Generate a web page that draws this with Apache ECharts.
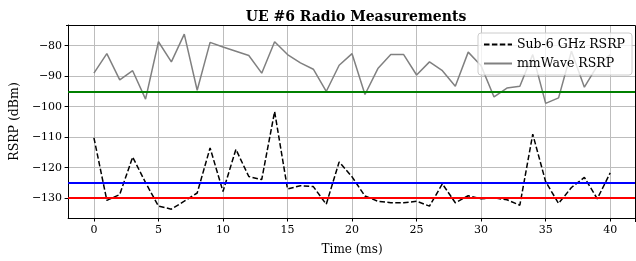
<!DOCTYPE html>
<html>
<head>
<meta charset="utf-8">
<script src="https://cdn.jsdelivr.net/npm/echarts@6/dist/echarts.min.js"></script>
<style>
  body { margin: 0; background: #fff; }
  #c { width: 636px; height: 261px; }
</style>
</head>
<body>
<div id="c"></div>
<script>
// ---------- data ----------
const timeMs = [0, 1, 2, 3, 4, 5, 6, 7, 8, 9, 10, 11, 12, 13, 14, 15, 16, 17, 18, 19, 20,
  21, 22, 23, 24, 25, 26, 27, 28, 29, 30, 31, 32, 33, 34, 35, 36, 37, 38, 39, 40];
const sub6Rsrp = [-110.2, -130.7, -128.8, -116.5, -124.9, -132.6, -133.6, -131.0, -128.3, -113.5,
  -127.8, -114.0, -122.9, -123.9, -101.6, -127.0, -125.9, -126.2, -132.0, -118.1,
  -123.0, -129.3, -131.0, -131.5, -131.5, -131.0, -132.6, -125.3, -131.5, -129.2,
  -130.2, -129.9, -130.5, -132.3, -109.0, -124.6, -131.7, -126.5, -123.2, -130.2, -121.7];
const mmwaveRsrp = [-89.0, -82.6, -91.2, -88.2, -97.5, -78.7, -85.3, -76.2, -94.6, -78.9,
  -80.4, -81.8, -83.2, -89.0, -78.7, -82.9, -85.6, -87.7, -95.0, -86.4,
  -82.6, -96.0, -87.5, -82.9, -82.9, -89.6, -85.3, -88.2, -93.3, -82.1,
  -86.6, -96.8, -93.9, -93.3, -82.9, -98.9, -97.1, -81.8, -93.6, -86.6, -83.0];
// threshold lines
const thresholds = [
  { value: -95, color: "#008000" },
  { value: -125, color: "#0000ff" },
  { value: -130, color: "#ff0000" },
];
const xTicks = [0, 5, 10, 15, 20, 25, 30, 35, 40];
const yTicks = [-130, -120, -110, -100, -90, -80];

const FONT = "DejaVu Serif";
const minus = (v) => String(v).replace("-", "\u2212");
const pairs = (ys) => timeMs.map((t, i) => [t, ys[i]]);

const chart = echarts.init(document.getElementById("c"), null, { renderer: "canvas" });
chart.setOption({
  animation: false,
  title: {
    text: "UE #6 Radio Measurements",
    left: 351, top: 5, textAlign: "center",
    textStyle: { fontFamily: FONT, fontSize: 14, fontWeight: "bold", color: "#000" },
  },
  grid: { left: 66, right: 0, top: 25, bottom: 39, containLabel: false },
  legend: {
    right: 4, top: 33,
    orient: "vertical",
    itemWidth: 28, itemHeight: 12, itemGap: 6,
    padding: [5, 7, 5, 5],
    backgroundColor: "rgba(255,255,255,0.8)",
    borderColor: "#cccccc", borderWidth: 1, borderRadius: 3,
    itemStyle: { opacity: 0 },
    textStyle: { fontFamily: FONT, fontSize: 12.5, color: "#000" },
    data: ["Sub-6 GHz RSRP", "mmWave RSRP"],
  },
  xAxis: {
    type: "value", min: -2, max: 42,
    name: "Time (ms)", nameLocation: "middle", nameGap: 26,
    nameTextStyle: { fontFamily: FONT, fontSize: 12, color: "#000" },
    axisLine: { onZero: false, lineStyle: { color: "#000", width: 1 } },
    axisTick: { customValues: xTicks, length: 3.5, lineStyle: { color: "#000" } },
    axisLabel: { customValues: xTicks, margin: 7, fontFamily: FONT, fontSize: 11, color: "#000" },
    splitLine: { show: true, lineStyle: { color: "#bdbdbd", width: 1 } },
  },
  yAxis: {
    type: "value", min: -136.5, max: -73.2,
    name: "RSRP (dBm)", nameLocation: "middle", nameGap: 47,
    nameTextStyle: { fontFamily: FONT, fontSize: 12.5, color: "#000" },
    axisLine: { show: true, onZero: false, lineStyle: { color: "#000", width: 1 } },
    axisTick: { show: true, customValues: yTicks, length: 3.5, lineStyle: { color: "#000" } },
    axisLabel: { customValues: yTicks, margin: 6, fontFamily: FONT, fontSize: 11, color: "#000", formatter: minus },
    splitLine: { show: true, lineStyle: { color: "#bdbdbd", width: 1 } },
  },
  series: [
    {
      name: "Sub-6 GHz RSRP", type: "line", data: pairs(sub6Rsrp),
      symbol: "none", color: "#000",
      lineStyle: { color: "#000", width: 1.5, type: [5.5, 2.4] },
      z: 3,
    },
    {
      name: "mmWave RSRP", type: "line", data: pairs(mmwaveRsrp),
      symbol: "none", color: "#808080",
      lineStyle: { color: "#808080", width: 1.5 },
      z: 3,
      markLine: {
        silent: true, symbol: "none", label: { show: false },
        data: thresholds.map((t) => ({ yAxis: t.value, lineStyle: { color: t.color, width: 2, type: "solid" } })),
      },
    },
  ],
  graphic: [{
    // top and right spines of the matplotlib frame
    type: "polyline", silent: true, z: 10,
    shape: { points: [[66, 25.5], [635.5, 25.5], [635.5, 222]] },
    style: { fill: null, stroke: "#000", lineWidth: 1 },
  }],
});
</script>
</body>
</html>
